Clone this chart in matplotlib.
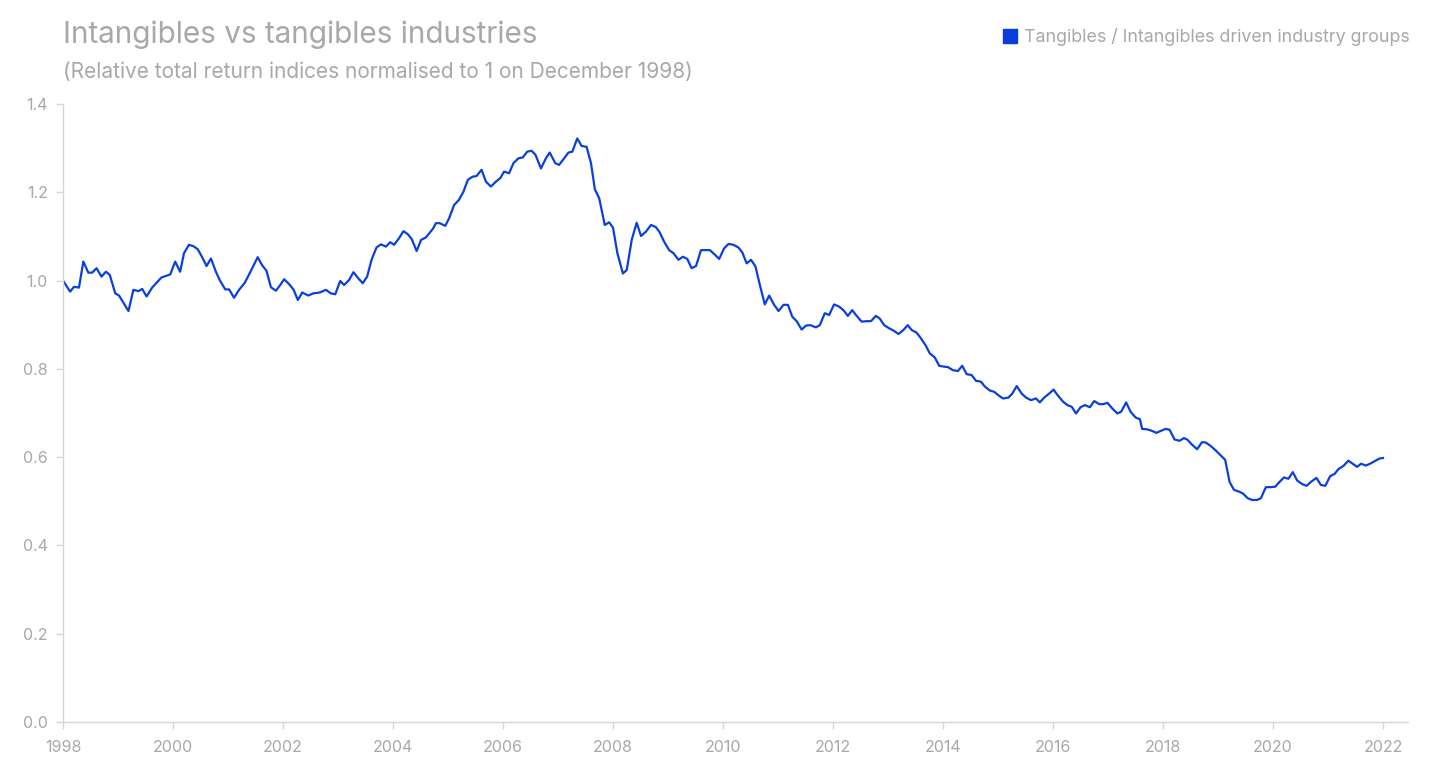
import matplotlib
matplotlib.use("Agg")
import matplotlib.pyplot as plt
from matplotlib.lines import Line2D

title = "Intangibles vs tangibles industries"
subtitle = "(Relative total return indices normalised to 1 on December 1998)"
series_name = "Tangibles / Intangibles driven industry groups"

x_ticks = [1998, 2000, 2002, 2004, 2006, 2008, 2010, 2012, 2014, 2016, 2018, 2020, 2022]
y_ticks = [0.0, 0.2, 0.4, 0.6, 0.8, 1.0, 1.2, 1.4]

dates = [
    1998.00, 1998.13, 1998.20, 1998.29, 1998.37, 1998.46, 1998.53, 1998.61, 1998.70, 1998.78,
    1998.85, 1998.95, 1999.02, 1999.19, 1999.28, 1999.37, 1999.44, 1999.52, 1999.62, 1999.79,
    1999.95, 2000.04, 2000.13, 2000.20, 2000.29, 2000.37, 2000.45, 2000.53, 2000.61, 2000.69,
    2000.78, 2000.85, 2000.95, 2001.02, 2001.11, 2001.20, 2001.30, 2001.38, 2001.46, 2001.54,
    2001.62, 2001.70, 2001.78, 2001.87, 2001.95, 2002.02, 2002.11, 2002.19, 2002.27, 2002.35,
    2002.46, 2002.55, 2002.67, 2002.78, 2002.87, 2002.95, 2003.04, 2003.11, 2003.20, 2003.28,
    2003.37, 2003.45, 2003.53, 2003.61, 2003.70, 2003.78, 2003.87, 2003.95, 2004.02, 2004.11,
    2004.19, 2004.27, 2004.34, 2004.43, 2004.51, 2004.60, 2004.73, 2004.78, 2004.85, 2004.95,
    2005.02, 2005.11, 2005.20, 2005.28, 2005.36, 2005.44, 2005.52, 2005.61, 2005.69, 2005.78,
    2005.87, 2005.95, 2006.02, 2006.11, 2006.19, 2006.28, 2006.36, 2006.44, 2006.52, 2006.59,
    2006.69, 2006.78, 2006.85, 2006.95, 2007.02, 2007.10, 2007.19, 2007.26, 2007.35, 2007.43,
    2007.52, 2007.60, 2007.67, 2007.75, 2007.85, 2007.93, 2008.00, 2008.08, 2008.18, 2008.25,
    2008.34, 2008.43, 2008.51, 2008.60, 2008.69, 2008.78, 2008.85, 2008.93, 2009.02, 2009.10,
    2009.19, 2009.27, 2009.35, 2009.43, 2009.51, 2009.60, 2009.69, 2009.76, 2009.85, 2009.93,
    2010.02, 2010.10, 2010.19, 2010.28, 2010.35, 2010.43, 2010.51, 2010.59, 2010.67, 2010.76,
    2010.84, 2010.93, 2011.01, 2011.10, 2011.18, 2011.26, 2011.34, 2011.43, 2011.51, 2011.59,
    2011.69, 2011.76, 2011.85, 2011.93, 2012.02, 2012.11, 2012.19, 2012.27, 2012.35, 2012.43,
    2012.52, 2012.61, 2012.69, 2012.78, 2012.85, 2012.93, 2013.02, 2013.11, 2013.19, 2013.28,
    2013.36, 2013.43, 2013.52, 2013.60, 2013.69, 2013.76, 2013.85, 2013.93, 2014.02, 2014.09,
    2014.18, 2014.27, 2014.35, 2014.43, 2014.52, 2014.60, 2014.69, 2014.76, 2014.85, 2014.93,
    2015.02, 2015.09, 2015.19, 2015.26, 2015.34, 2015.43, 2015.51, 2015.60, 2015.69, 2015.76,
    2015.84, 2015.93, 2016.01, 2016.08, 2016.18, 2016.26, 2016.34, 2016.42, 2016.50, 2016.58,
    2016.67, 2016.75, 2016.84, 2016.91, 2016.99, 2017.08, 2017.17, 2017.24, 2017.33, 2017.41,
    2017.50, 2017.58, 2017.62, 2017.71, 2017.79, 2017.88, 2017.97, 2018.05, 2018.12, 2018.21,
    2018.30, 2018.38, 2018.44, 2018.53, 2018.62, 2018.71, 2018.78, 2018.87, 2018.96, 2019.04,
    2019.13, 2019.21, 2019.29, 2019.38, 2019.45, 2019.54, 2019.62, 2019.71, 2019.78, 2019.87,
    2019.96, 2020.04, 2020.12, 2020.20, 2020.28, 2020.36, 2020.44, 2020.53, 2020.61, 2020.69,
    2020.79, 2020.87, 2020.95, 2021.04, 2021.12, 2021.19, 2021.28, 2021.37, 2021.44, 2021.53,
    2021.60, 2021.69, 2021.78, 2021.85, 2021.94, 2022.00,
]

ratio = [
    1.000, 0.975, 0.986, 0.984, 1.043, 1.018, 1.018, 1.028, 1.009, 1.020,
    1.013, 0.971, 0.966, 0.931, 0.979, 0.976, 0.981, 0.964, 0.984, 1.007,
    1.014, 1.043, 1.020, 1.062, 1.081, 1.078, 1.071, 1.053, 1.033, 1.050,
    1.020, 1.001, 0.980, 0.980, 0.961, 0.979, 0.994, 1.013, 1.033, 1.053,
    1.035, 1.022, 0.985, 0.977, 0.990, 1.003, 0.992, 0.980, 0.956, 0.973,
    0.966, 0.971, 0.973, 0.979, 0.971, 0.969, 0.999, 0.990, 1.001, 1.019,
    1.005, 0.994, 1.009, 1.047, 1.075, 1.082, 1.077, 1.087, 1.081, 1.096,
    1.112, 1.105, 1.094, 1.067, 1.092, 1.098, 1.118, 1.130, 1.130, 1.124,
    1.141, 1.171, 1.183, 1.201, 1.228, 1.235, 1.237, 1.251, 1.224, 1.213,
    1.224, 1.232, 1.247, 1.243, 1.266, 1.277, 1.279, 1.292, 1.294, 1.285,
    1.254, 1.277, 1.290, 1.266, 1.262, 1.275, 1.290, 1.292, 1.322, 1.305,
    1.303, 1.266, 1.207, 1.186, 1.126, 1.132, 1.120, 1.062, 1.016, 1.024,
    1.092, 1.131, 1.101, 1.111, 1.126, 1.121, 1.109, 1.088, 1.069, 1.062,
    1.047, 1.054, 1.049, 1.028, 1.033, 1.069, 1.069, 1.069, 1.059, 1.049,
    1.073, 1.083, 1.081, 1.075, 1.064, 1.039, 1.047, 1.032, 0.990, 0.946,
    0.966, 0.945, 0.931, 0.945, 0.945, 0.918, 0.908, 0.889, 0.898, 0.899,
    0.894, 0.899, 0.926, 0.922, 0.946, 0.941, 0.933, 0.920, 0.933, 0.920,
    0.907, 0.908, 0.908, 0.920, 0.914, 0.899, 0.892, 0.886, 0.879, 0.888,
    0.899, 0.888, 0.882, 0.869, 0.852, 0.835, 0.826, 0.807, 0.805, 0.804,
    0.797, 0.795, 0.807, 0.788, 0.786, 0.773, 0.771, 0.760, 0.751, 0.748,
    0.739, 0.733, 0.735, 0.744, 0.761, 0.744, 0.735, 0.729, 0.733, 0.724,
    0.735, 0.744, 0.753, 0.741, 0.726, 0.718, 0.714, 0.699, 0.713, 0.718,
    0.713, 0.727, 0.720, 0.720, 0.723, 0.710, 0.699, 0.703, 0.724, 0.703,
    0.690, 0.686, 0.664, 0.663, 0.660, 0.655, 0.660, 0.664, 0.662, 0.640,
    0.637, 0.643, 0.640, 0.628, 0.618, 0.634, 0.633, 0.625, 0.615, 0.605,
    0.594, 0.544, 0.526, 0.522, 0.518, 0.507, 0.503, 0.503, 0.507, 0.532,
    0.532, 0.533, 0.544, 0.554, 0.551, 0.566, 0.547, 0.539, 0.535, 0.544,
    0.553, 0.537, 0.535, 0.557, 0.562, 0.573, 0.580, 0.592, 0.586, 0.578,
    0.585, 0.581, 0.586, 0.591, 0.597, 0.598,
]

LINE_COLOR = "#0b3fdc"
TEXT_GRAY = "#a8a8a8"
AXIS_GRAY = "#d6d6d6"

plt.rcParams['font.family'] = ['Inter', 'DejaVu Sans']

fig = plt.figure(figsize=(14.52, 7.84), dpi=100)
ax = fig.add_axes([63 / 1452, 62 / 784, (1408 - 63) / 1452, (722 - 104) / 784])

ax.plot(dates, ratio, color=LINE_COLOR, linewidth=1.6, solid_joinstyle='round')

ax.set_xlim(1998, 1998 + (1408 - 63) / 55.0)
ax.set_ylim(0, 1.4)
ax.set_xticks(x_ticks)
ax.set_xticklabels([str(t) for t in x_ticks])
ax.set_yticks(y_ticks)
ax.set_yticklabels([f"{t:.1f}" for t in y_ticks])

for s in ['top', 'right']:
    ax.spines[s].set_visible(False)
for s in ['left', 'bottom']:
    ax.spines[s].set_color(AXIS_GRAY)
    ax.spines[s].set_linewidth(1.0)

ax.tick_params(axis='both', colors=AXIS_GRAY, labelcolor=TEXT_GRAY, labelsize=11.5,
               length=5, width=1.0, direction='out')
ax.tick_params(axis='y', pad=6)
ax.tick_params(axis='x', pad=8)

fig.text(63 / 1452, 1 - 35 / 784, title, color=TEXT_GRAY, fontsize=21.4,
         ha='left', va='center')
fig.text(63 / 1452, 1 - 72 / 784, subtitle, color=TEXT_GRAY, fontsize=15.0,
         ha='left', va='center')

handle = Line2D([], [], marker='s', linestyle='none', markersize=10,
                markerfacecolor="#0a3ddb", markeredgecolor="#0a3ddb")
leg = fig.legend([handle], [series_name], loc='center right',
                 bbox_to_anchor=(1426 / 1452, 1 - 37 / 784), frameon=False,
                 fontsize=12.85, handletextpad=0.3, handlelength=1.0)
for t in leg.get_texts():
    t.set_color(TEXT_GRAY)

fig.savefig("out.png", dpi=100, facecolor='white')
